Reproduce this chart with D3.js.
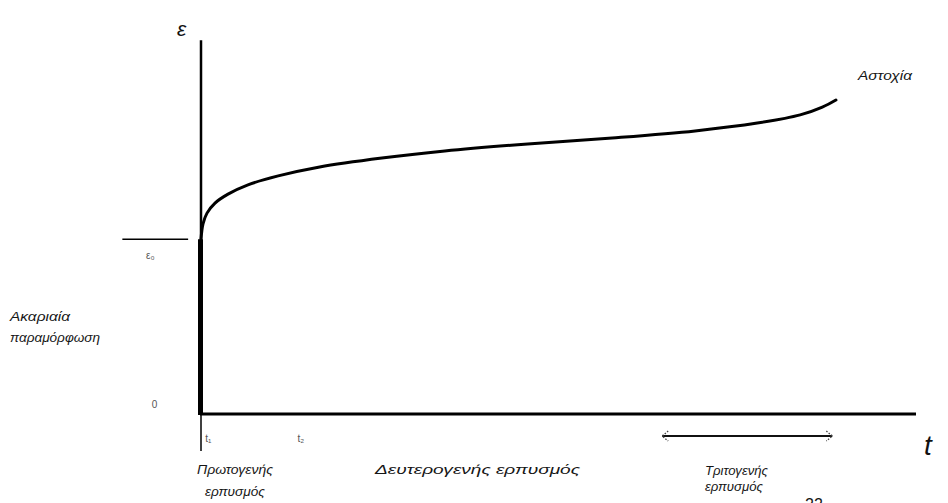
<!DOCTYPE html>
<html>
<head>
<meta charset="utf-8">
<script src="https://cdn.jsdelivr.net/npm/d3@7"></script>
<style>
  html, body { margin: 0; padding: 0; background: #fff; }
  svg { display: block; }
  text { font-family: "Liberation Sans", Arial, sans-serif; font-style: italic; fill: #161616; }
</style>
</head>
<body>
<svg id="chart" width="948" height="503"></svg>
<script>
// Creep curve: strain ε against time t (arbitrary units, 0–100)
const creepTime   = [0, 0.28, 0.84, 1.96, 3.78, 6.57, 10.8, 16.6, 25.3, 34.1, 45.7, 57.5, 69.1, 77.8, 83.8, 86.9, 88.8];
const creepStrain = [47.0, 51.1, 54.0, 56.7, 59.1, 61.6, 64.0, 66.4, 68.8, 70.7, 72.6, 74.2, 76.1, 78.2, 80.4, 82.5, 84.4];

// Instantaneous strain level ε0
const instantStrain = 47.0;

// Tertiary stage span on the time axis
const tertiaryStart = 64.5;
const tertiaryEnd   = 88.3;

// Text labels (text, left x, baseline y, drawn width)
const labels = [
  { s: "Πρωτογενής",            x: 197, y: 474, w: 76 },
  { s: "ερπυσμός",              x: 205, y: 496, w: 60 },
  { s: "Δευτερογενής ερπυσμός", x: 375, y: 474, w: 205 },
  { s: "Τριτογενής",            x: 705, y: 475, w: 63 },
  { s: "ερπυσμός",              x: 705, y: 491, w: 58 },
  { s: "Ακαριαία",              x: 10,  y: 321, w: 60 },
  { s: "παραμόρφωση",           x: 10,  y: 342, w: 90 },
  { s: "Αστοχία",               x: 858, y: 80,  w: 54 }
];
const axisLabels = { y: "ε", x: "t" };

const svg = d3.select("#chart");

const x = d3.scaleLinear().domain([0, 100]).range([201, 916]);
const y = d3.scaleLinear().domain([0, 100]).range([414, 42]);

// Axes
svg.append("line")
  .attr("x1", x(0)).attr("x2", x(0))
  .attr("y1", y(0)).attr("y2", y(100.5))
  .attr("stroke", "#000").attr("stroke-width", 2.5);

svg.append("line")
  .attr("x1", x(0) - 1).attr("x2", x(100))
  .attr("y1", y(0)).attr("y2", y(0))
  .attr("stroke", "#000").attr("stroke-width", 3);

// Instantaneous deformation: thick segment along the strain axis
svg.append("line")
  .attr("x1", x(0) - 0.5).attr("x2", x(0) - 0.5)
  .attr("y1", y(0) + 1).attr("y2", y(instantStrain))
  .attr("stroke", "#000").attr("stroke-width", 5);

// ε0 reference line to the left of the axis
svg.append("line")
  .attr("x1", x(-11.0)).attr("x2", x(-1.8))
  .attr("y1", y(instantStrain)).attr("y2", y(instantStrain))
  .attr("stroke", "#000").attr("stroke-width", 1.5);

// Small tick below the origin
svg.append("line")
  .attr("x1", x(0)).attr("x2", x(0))
  .attr("y1", y(0)).attr("y2", y(0) + 37)
  .attr("stroke", "#000").attr("stroke-width", 1.5);

// Creep curve
const pts = creepTime.map((t, i) => [t, creepStrain[i]]);
svg.append("path")
  .datum(pts)
  .attr("fill", "none")
  .attr("stroke", "#000")
  .attr("stroke-width", 3)
  .attr("stroke-linecap", "round")
  .attr("d", d3.line().x(d => x(d[0])).y(d => y(d[1])).curve(d3.curveCatmullRom.alpha(0.5)));

// Tertiary stage span: double-headed arrow
const ay = y(0) + 22;
svg.append("line")
  .attr("x1", x(tertiaryStart)).attr("x2", x(tertiaryEnd))
  .attr("y1", ay).attr("y2", ay)
  .attr("stroke", "#111").attr("stroke-width", 1.8);
[[tertiaryStart, 1], [tertiaryEnd, -1]].forEach(([t, dir]) => {
  const px = x(t);
  svg.append("path")
    .attr("d", `M${px + dir * 6},${ay - 5} L${px},${ay} L${px + dir * 6},${ay + 5}`)
    .attr("fill", "none").attr("stroke", "#444").attr("stroke-width", 1.3)
    .attr("stroke-dasharray", "1.5,1.5");
});

// Small marks on the axes
const smallMarks = [
  { x: x(-7.7), y: y(instantStrain) + 20, s: "ε₀" },
  { x: x(-6.9), y: y(0) - 6, s: "0" },
  { x: x(0.6), y: y(0) + 28, s: "t₁" },
  { x: x(13.5), y: y(0) + 28, s: "t₂" }
];
svg.selectAll("text.mark").data(smallMarks).enter().append("text")
  .attr("class", "mark")
  .attr("x", d => d.x).attr("y", d => d.y)
  .style("font-size", "10px").style("fill", "#555").style("font-style", "normal")
  .text(d => d.s);

// Axis titles
svg.append("text").attr("x", 177).attr("y", 36)
  .style("font-size", "21px").style("fill", "#111").text(axisLabels.y);
svg.append("text").attr("x", 924).attr("y", 455)
  .style("font-size", "28px").style("fill", "#111").text(axisLabels.x);

// Stage, deformation and failure labels
svg.selectAll("text.lab").data(labels).enter().append("text")
  .attr("class", "lab")
  .attr("x", d => d.x).attr("y", d => d.y)
  .attr("textLength", d => d.w)
  .attr("lengthAdjust", "spacingAndGlyphs")
  .style("font-size", "13.5px")
  .text(d => d.s);

// Page number at the bottom edge
svg.append("text").attr("x", 805).attr("y", 510)
  .style("font-size", "16px").style("font-style", "normal").text("22");
</script>
</body>
</html>
